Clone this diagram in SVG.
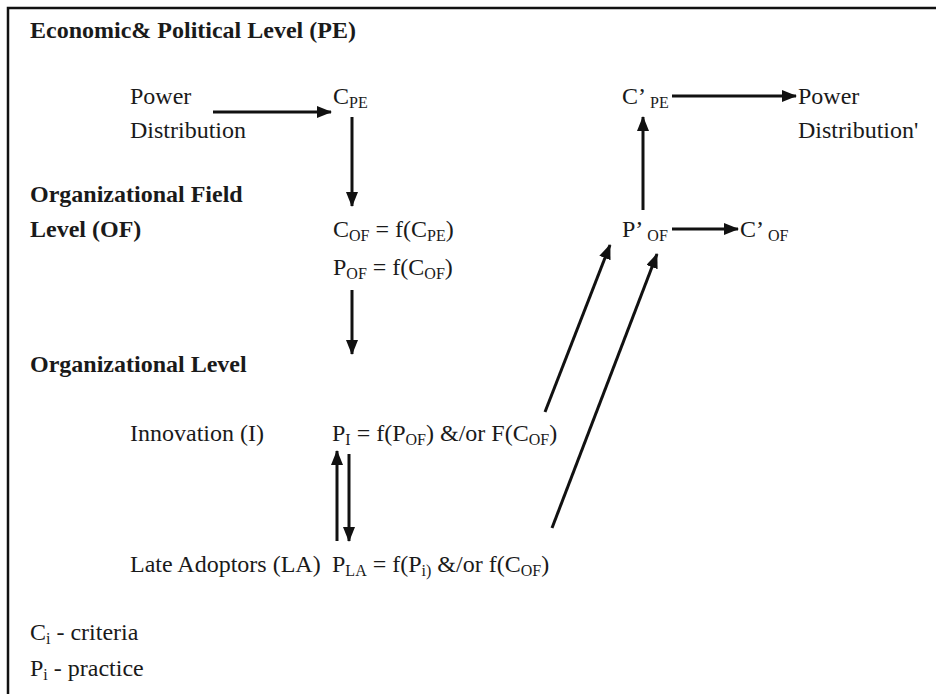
<svg xmlns="http://www.w3.org/2000/svg" width="936" height="694" viewBox="0 0 936 694">
<defs>
<style>
text{font-family:"Liberation Serif","Times New Roman",serif;font-size:24px;fill:#1a1a1a}
.b{font-weight:bold}
.s{font-size:16px}
.ln{stroke:#111;stroke-width:3;fill:none}
</style>
<marker id="ah" markerUnits="userSpaceOnUse" markerWidth="15" markerHeight="12" refX="14" refY="6" orient="auto">
<path d="M0,0 L15,6 L0,12 Z" fill="#111"/>
</marker>
</defs>
<rect x="8" y="8" width="1000" height="1000" fill="none" stroke="#111" stroke-width="2.5"/>
<g id="labels">
<text class="b" x="30" y="38">Economic&amp; Political Level (PE)</text>
<text class="b" x="30" y="202">Organizational Field</text>
<text class="b" x="30" y="237">Level (OF)</text>
<text class="b" x="30" y="372">Organizational Level</text>
</g>
<g id="power-distribution"><text x="130" y="104">Power</text><text x="130" y="138">Distribution</text></g>
<g id="c-pe"><text x="333" y="104">C<tspan class="s" dy="4">PE</tspan></text></g>
<g id="c-of"><text x="333" y="237">C<tspan class="s" dy="4">OF</tspan><tspan dy="-4"> = f(C</tspan><tspan class="s" dy="4">PE</tspan><tspan dy="-4">)</tspan></text></g>
<g id="p-of"><text x="333" y="275">P<tspan class="s" dy="4">OF</tspan><tspan dy="-4"> = f(C</tspan><tspan class="s" dy="4">OF</tspan><tspan dy="-4">)</tspan></text></g>
<g id="innovation"><text x="130" y="441">Innovation (I)</text></g>
<g id="p-i"><text x="332" y="441">P<tspan class="s" dy="4">I</tspan><tspan dy="-4"> = f(P</tspan><tspan class="s" dy="4">OF</tspan><tspan dy="-4">) &amp;/or F(C</tspan><tspan class="s" dy="4">OF</tspan><tspan dy="-4">)</tspan></text></g>
<g id="late-adoptors"><text x="130" y="572">Late Adoptors (LA)</text></g>
<g id="p-la"><text x="332" y="572">P<tspan class="s" dy="4">LA</tspan><tspan dy="-4"> = f(P</tspan><tspan class="s" dy="4">i)</tspan><tspan dy="-4"> &amp;/or f(C</tspan><tspan class="s" dy="4">OF</tspan><tspan dy="-4">)</tspan></text></g>
<g id="c-pe-prime"><text x="622" y="104">C’<tspan class="s" dy="4"> PE</tspan></text></g>
<g id="power-distribution-prime"><text x="798" y="104">Power</text><text x="798" y="138">Distribution'</text></g>
<g id="p-of-prime"><text x="622" y="237">P’<tspan class="s" dy="4"> OF</tspan></text></g>
<g id="c-of-prime"><text x="740" y="237">C’<tspan class="s" dy="4"> OF</tspan></text></g>
<g id="legend">
<text x="30" y="640">C<tspan class="s" dy="4">i</tspan><tspan dy="-4"> - criteria</tspan></text>
<text x="30" y="676">P<tspan class="s" dy="4">i</tspan><tspan dy="-4"> - practice</tspan></text>
</g>
<g id="connectors">
<line class="ln" x1="213" y1="112" x2="331" y2="112" marker-end="url(#ah)"/>
<line class="ln" x1="352" y1="117" x2="352" y2="206" marker-end="url(#ah)"/>
<line class="ln" x1="352" y1="290" x2="352" y2="354" marker-end="url(#ah)"/>
<line class="ln" x1="337" y1="541" x2="337" y2="451" marker-end="url(#ah)"/>
<line class="ln" x1="349" y1="454" x2="349" y2="541" marker-end="url(#ah)"/>
<line class="ln" x1="545" y1="412" x2="610" y2="245" marker-end="url(#ah)"/>
<line class="ln" x1="552" y1="528" x2="657" y2="254" marker-end="url(#ah)"/>
<line class="ln" x1="643" y1="210" x2="643" y2="117" marker-end="url(#ah)"/>
<line class="ln" x1="672" y1="96" x2="796" y2="96" marker-end="url(#ah)"/>
<line class="ln" x1="672" y1="229" x2="738" y2="229" marker-end="url(#ah)"/>
</g>
</svg>
